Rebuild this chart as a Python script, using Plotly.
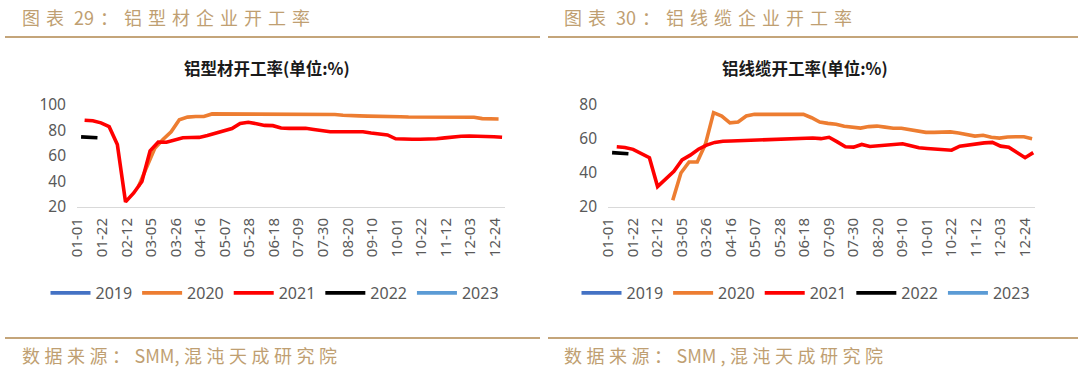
import pandas as pd
import plotly.graph_objects as go

# ---------------- data ----------------
YEARS = ["2019", "2020", "2021", "2022", "2023"]
COLORS = {"2019": "#4472C4", "2020": "#ED7D31", "2021": "#FF0000", "2022": "#000000", "2023": "#5B9BD5"}

X_TICK_LABELS = ["01-01", "01-22", "02-12", "03-05", "03-26", "04-16", "05-07", "05-28", "06-18",
                 "07-09", "07-30", "08-20", "09-10", "10-01", "10-22", "11-12", "12-03", "12-24"]

# Left chart: 铝型材开工率 (weekly)
profile_2020_start = "2021-02-22"
profile_2020 = [36, 51, 66, 73, 79, 88.5, 90.5, 91, 91, 93,
                93, 93, 93, 93, 93, 93, 93, 93, 93, 93, 93,
                92.7, 92.5, 92.5, 92.5, 92, 91.5, 91.5, 91.3, 91, 91, 90.8, 90.8, 90.6, 90.5,
                90.5, 90.5, 90.5, 90.5, 90.5, 90.5, 90.4, 89.3, 89, 89]
profile_2021_start = "2021-01-07"
profile_2021 = [88.1, 87.6, 86, 83, 69, 24, 31, 40, 64, 71,
                70.8, 72.8, 74.3, 74.5, 74.6, 76, 78, 80, 81.5, 85.5,
                86.5, 85.3, 84, 83.8, 82, 81.7, 81.7, 81.7, 80.8, 79.8,
                79, 79, 79, 79, 79, 78, 77.3, 76.5, 73.5, 73.1,
                73.1, 73.1, 73.1, 73.5, 74.2, 75, 75.5, 75.7, 75.7, 75.4,
                75.1, 74.7]
profile_2022_start = "2021-01-04"
profile_2022 = [75, 74.5, 74.3]

# Right chart: 铝线缆开工率 (weekly)
cable_2020_start = "2021-02-25"
cable_2020 = [24, 40, 46.5, 46.5, 57, 75.5, 73.5, 69.5, 70, 73.5,
              74.5, 74.5, 74.5, 74.5, 74.5, 74.5, 74.5, 72.5, 70, 69.2,
              68.7, 67.5, 67, 66.4, 67.3, 67.6, 67, 66.3, 66.3, 65.5,
              64.2, 63.9, 63.9, 64, 64.2, 63.5, 62.6, 61.7, 62.2, 61,
              60.5, 61.2, 61.3, 61.3, 60.2]
cable_2021_start = "2021-01-08"
cable_2021 = [55.4, 55, 53.9, 51.2, 49, 32, 36.5, 41, 47.7, 50.5,
              54, 56.4, 58, 58.7, 58.8, 59, 59.3, 59.6, 59.8, 60,
              60.2, 60.4, 60.5, 60.6, 60.6, 60.2, 61, 58.3, 55.4, 55.2,
              56.8, 55.6, 56, 56.5, 57.1, 57.2, 56, 54.8, 54.4, 54,
              53.7, 53.4, 55.8, 56.6, 57.2, 57.7, 58, 55.8, 55.2, 52,
              49, 52]
cable_2022_start = "2021-01-04"
cable_2022 = [52, 51.5, 51.3]

LEFT = {"2020": (profile_2020_start, profile_2020), "2021": (profile_2021_start, profile_2021),
        "2022": (profile_2022_start, profile_2022)}
RIGHT = {"2020": (cable_2020_start, cable_2020), "2021": (cable_2021_start, cable_2021),
         "2022": (cable_2022_start, cable_2022)}

TITLE_L = "铝型材开工率(单位:%)"
TITLE_R = "铝线缆开工率(单位:%)"
HEAD_L = "图表 29：铝型材企业开工率"
HEAD_R = "图表 30：铝线缆企业开工率"
FOOT_L = "数据来源：SMM,混沌天成研究院"
FOOT_R = "数据来源：SMM ,混沌天成研究院"

# ---------------- figure ----------------
W, H = 1080, 367
fig = go.Figure()


def add_series(data, xaxis, yaxis, legend):
    for yr in YEARS:
        if yr in data:
            start, vals = data[yr]
            x = pd.date_range(start, periods=len(vals), freq="7D")
            y = vals
        else:
            x, y = [pd.Timestamp("2021-01-01")], [None]
        fig.add_trace(go.Scatter(x=x, y=y, mode="lines", name=yr, xaxis=xaxis, yaxis=yaxis,
                                 legend=legend, line=dict(color=COLORS[yr], width=3.6),
                                 hoverinfo="skip"))


add_series(LEFT, "x", "y", "legend")
add_series(RIGHT, "x2", "y2", "legend2")

tickvals = [pd.Timestamp("2021-" + t) for t in X_TICK_LABELS]
xr = ["2020-12-31 12:00", "2022-01-01 12:00"]
tickfont = dict(family="Noto Sans, DejaVu Sans", size=15, color="#595959")
xcommon = dict(type="date", range=xr, tickmode="array", tickvals=tickvals, ticktext=X_TICK_LABELS,
               tickangle=-90, showgrid=False, showline=True, linecolor="#D9D9D9", linewidth=1,
               ticks="", zeroline=False, tickfont=tickfont, automargin=False, ticklabelstandoff=4)
ydom = [1 - 207 / H, 1 - 105 / H]
ycommon = dict(showgrid=False, showline=False, zeroline=False, ticks="", automargin=False,
               ticklabelstandoff=10,
               tickfont=dict(family="Noto Sans, DejaVu Sans", size=15.5, color="#595959"), domain=ydom)

legfont = dict(family="Noto Sans, DejaVu Sans", size=16, color="#595959")
fig.update_layout(
    width=W, height=H, margin=dict(l=0, r=0, t=0, b=0, autoexpand=False),
    paper_bgcolor="white", plot_bgcolor="white", showlegend=True,
    xaxis=dict(domain=[77 / W, 505 / W], anchor="y", **xcommon),
    yaxis=dict(range=[20, 100], tickvals=[20, 40, 60, 80, 100], anchor="x", **ycommon),
    xaxis2=dict(domain=[608 / W, 1035 / W], anchor="y2", **xcommon),
    yaxis2=dict(range=[20, 80], tickvals=[20, 40, 60, 80], anchor="x2", **ycommon),
    legend=dict(orientation="h", x=275 / W, xanchor="center", y=1 - 293 / H, yanchor="middle",
                font=legfont, bgcolor="rgba(0,0,0,0)", itemwidth=40),
    legend2=dict(orientation="h", x=806 / W, xanchor="center", y=1 - 293 / H, yanchor="middle",
                 font=legfont, bgcolor="rgba(0,0,0,0)", itemwidth=40),
)


def spaced(s, gap):
    # letter-spacing between CJK characters only; ASCII runs stay compact
    out = s[0]
    for a, b in zip(s, s[1:]):
        if ord(a) > 127 or ord(b) > 127:
            out += gap
        out += b
    return out


gold = "#BF9F72"
cjk = "Noto Sans CJK SC"
ann = []
ann.append(dict(text="<b>" + TITLE_L + "</b>", x=267 / W, y=1 - 68 / H, xref="paper", yref="paper",
                showarrow=False, xanchor="center", yanchor="middle",
                font=dict(family=cjk, size=16.5, color="#1a1a1a")))
ann.append(dict(text="<b>" + TITLE_R + "</b>", x=805 / W, y=1 - 68 / H, xref="paper", yref="paper",
                showarrow=False, xanchor="center", yanchor="middle",
                font=dict(family=cjk, size=16.5, color="#1a1a1a")))
for txt, x in [(HEAD_L, 20), (HEAD_R, 562)]:
    ann.append(dict(text=spaced(txt, "\u2004"), x=x / W, y=1 - 17 / H, xref="paper", yref="paper",
                    showarrow=False, xanchor="left", yanchor="middle",
                    font=dict(family=cjk, size=18, color=gold)))
for txt, x in [(FOOT_L, 20), (FOOT_R, 562)]:
    ann.append(dict(text=spaced(txt, "\u2005"), x=x / W, y=1 - 355 / H, xref="paper", yref="paper",
                    showarrow=False, xanchor="left", yanchor="middle",
                    font=dict(family=cjk, size=18, color=gold)))
fig.update_layout(annotations=ann)

shapes = []
for x0, x1 in [(5, 540), (548, 1078)]:
    for yy in [37, 338]:
        shapes.append(dict(type="line", xref="paper", yref="paper", x0=x0 / W, x1=x1 / W,
                           y0=1 - yy / H, y1=1 - yy / H, line=dict(color="#C4A57A", width=2)))
fig.update_layout(shapes=shapes)

fig.write_html("out.html", config={"displayModeBar": False},
               post_script="document.body.style.margin='0';document.body.style.padding='0';"
                           "document.body.style.overflow='hidden';")
